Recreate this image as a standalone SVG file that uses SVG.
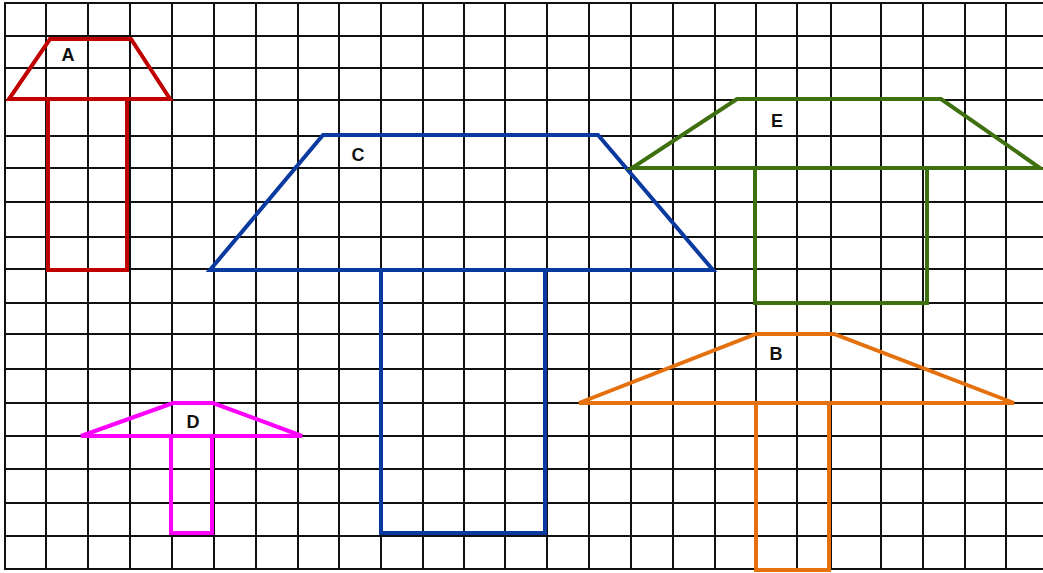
<svg xmlns="http://www.w3.org/2000/svg" width="1043" height="573" viewBox="0 0 1043 573">
<style>
.grid line{stroke:#111;stroke-width:2}
.sh{fill:none;stroke-width:4;stroke-linejoin:miter}
.lbl{font-family:"Liberation Sans",Arial,sans-serif;font-size:18px;font-weight:bold;fill:#111;text-anchor:middle}
</style>
<rect width="1043" height="573" fill="#fff"/>
<g class="grid">
<line x1="5" y1="3" x2="1043" y2="3"/>
<line x1="5" y1="36" x2="1043" y2="36"/>
<line x1="5" y1="68" x2="1043" y2="68"/>
<line x1="5" y1="100" x2="1043" y2="100"/>
<line x1="5" y1="136" x2="1043" y2="136"/>
<line x1="5" y1="168" x2="1043" y2="168"/>
<line x1="5" y1="202" x2="1043" y2="202"/>
<line x1="5" y1="237" x2="1043" y2="237"/>
<line x1="5" y1="269" x2="1043" y2="269"/>
<line x1="5" y1="303" x2="1043" y2="303"/>
<line x1="5" y1="334" x2="1043" y2="334"/>
<line x1="5" y1="369" x2="1043" y2="369"/>
<line x1="5" y1="403" x2="1043" y2="403"/>
<line x1="5" y1="436" x2="1043" y2="436"/>
<line x1="5" y1="469" x2="1043" y2="469"/>
<line x1="5" y1="503" x2="1043" y2="503"/>
<line x1="5" y1="536" x2="1043" y2="536"/>
<line x1="5" y1="569" x2="1043" y2="569"/>
<line x1="5" y1="2" x2="5" y2="570"/>
<line x1="46" y1="2" x2="46" y2="570"/>
<line x1="88" y1="2" x2="88" y2="570"/>
<line x1="130" y1="2" x2="130" y2="570"/>
<line x1="172" y1="2" x2="172" y2="570"/>
<line x1="214" y1="2" x2="214" y2="570"/>
<line x1="256" y1="2" x2="256" y2="570"/>
<line x1="298" y1="2" x2="298" y2="570"/>
<line x1="339" y1="2" x2="339" y2="570"/>
<line x1="381" y1="2" x2="381" y2="570"/>
<line x1="423" y1="2" x2="423" y2="570"/>
<line x1="464" y1="2" x2="464" y2="570"/>
<line x1="505" y1="2" x2="505" y2="570"/>
<line x1="547" y1="2" x2="547" y2="570"/>
<line x1="589" y1="2" x2="589" y2="570"/>
<line x1="631" y1="2" x2="631" y2="570"/>
<line x1="673" y1="2" x2="673" y2="570"/>
<line x1="715" y1="2" x2="715" y2="570"/>
<line x1="756" y1="2" x2="756" y2="570"/>
<line x1="797" y1="2" x2="797" y2="570"/>
<line x1="831" y1="2" x2="831" y2="570"/>
<line x1="881" y1="2" x2="881" y2="570"/>
<line x1="923" y1="2" x2="923" y2="570"/>
<line x1="965" y1="2" x2="965" y2="570"/>
<line x1="1006" y1="2" x2="1006" y2="570"/>
</g>
<g id="A">
<rect class="sh" stroke="#c00000" x="48" y="99" width="79" height="171"/>
<polygon class="sh" stroke="#c00000" points="50,39 131,39 170,99 9,99"/>
<text class="lbl" x="68" y="61">A</text>
</g>
<g id="C">
<rect class="sh" stroke="#0a3aa0" x="381" y="270" width="164" height="263"/>
<polygon class="sh" stroke="#0a3aa0" points="323,135 598,135 713,270 210,270"/>
<text class="lbl" x="358" y="161">C</text>
</g>
<g id="E">
<rect class="sh" stroke="#3f7010" x="755" y="168" width="172" height="135"/>
<polygon class="sh" stroke="#3f7010" points="737,99 941,99 1040,168 632,168"/>
<text class="lbl" x="777" y="127">E</text>
</g>
<g id="B">
<rect class="sh" stroke="#e4700e" x="756" y="403" width="73" height="167"/>
<polygon class="sh" stroke="#e4700e" points="756,334 834,334 1014,403 579,403"/>
<text class="lbl" x="776" y="360">B</text>
</g>
<g id="D">
<rect class="sh" stroke="#ff00ff" x="171" y="436" width="41" height="97"/>
<polygon class="sh" stroke="#ff00ff" points="173,403 213,403 302,436 81,436"/>
<text class="lbl" x="193" y="428">D</text>
</g>
<g id="connectors"></g>
</svg>
